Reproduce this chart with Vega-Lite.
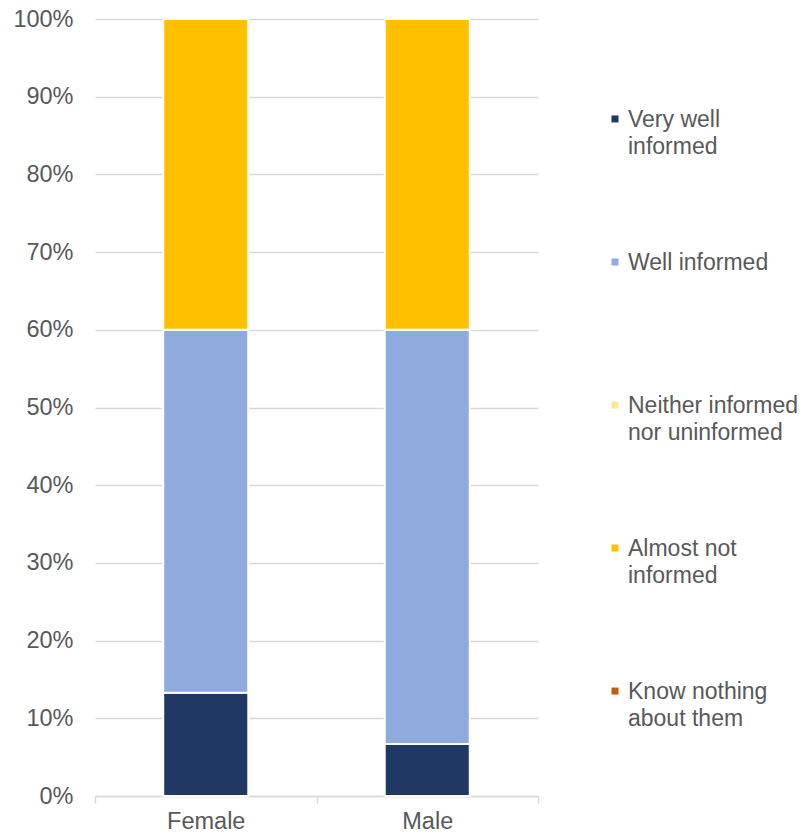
{
  "$schema": "https://vega.github.io/schema/vega-lite/v6.json",
  "padding": {"left": 12, "top": 7, "right": 0, "bottom": 0},
  "background": "white",
  "spacing": 72,
  "config": {"view": {"stroke": null}, "font": "Liberation Sans"},
  "hconcat": [
    {
      "width": 443,
      "height": 777,
      "data": {
        "values": [
          {"gender": "Female", "level": "Very well informed", "pct": 0.133},
          {"gender": "Female", "level": "Well informed", "pct": 0.467},
          {"gender": "Female", "level": "Neither informed nor uninformed", "pct": 0},
          {"gender": "Female", "level": "Almost not informed", "pct": 0.4},
          {"gender": "Female", "level": "Know nothing about them", "pct": 0},
          {"gender": "Male", "level": "Very well informed", "pct": 0.067},
          {"gender": "Male", "level": "Well informed", "pct": 0.533},
          {"gender": "Male", "level": "Neither informed nor uninformed", "pct": 0},
          {"gender": "Male", "level": "Almost not informed", "pct": 0.4},
          {"gender": "Male", "level": "Know nothing about them", "pct": 0}
        ]
      },
      "transform": [
        {"calculate": "indexof(['Very well informed', 'Well informed', 'Neither informed nor uninformed', 'Almost not informed', 'Know nothing about them'], datum.level)", "as": "stackOrder"}
      ],
      "mark": {"type": "bar", "width": {"band": 0.384}, "stroke": "white", "strokeWidth": 2},
      "encoding": {
        "x": {
          "field": "gender",
          "type": "nominal",
          "sort": ["Female", "Male"],
          "scale": {"paddingInner": 0, "paddingOuter": 0},
          "axis": {
            "title": null,
            "labelAngle": 0,
            "labelFontSize": 23.5,
            "labelColor": "#595959",
            "domainColor": "#d9d9d9",
            "domainWidth": 1.5,
            "tickColor": "#d9d9d9",
            "tickBand": "extent",
            "tickSize": 7,
            "tickWidth": 1.5,
            "labelPadding": 6
          }
        },
        "y": {
          "field": "pct",
          "type": "quantitative",
          "stack": "zero",
          "scale": {"domain": [0, 1]},
          "axis": {
            "title": null,
            "format": ".0%",
            "values": [0, 0.1, 0.2, 0.3, 0.4, 0.5, 0.6, 0.7, 0.8, 0.9, 1],
            "domain": false,
            "ticks": false,
            "gridColor": "#d9d9d9",
            "gridWidth": 1.5,
            "labelFontSize": 23.5,
            "labelColor": "#595959",
            "labelPadding": 22
          }
        },
        "color": {
          "field": "level",
          "type": "nominal",
          "sort": ["Very well informed", "Well informed", "Neither informed nor uninformed", "Almost not informed", "Know nothing about them"],
          "scale": {
            "domain": ["Very well informed", "Well informed", "Neither informed nor uninformed", "Almost not informed", "Know nothing about them"],
            "range": ["#203864", "#8FAADC", "#FFE699", "#FFC000", "#C55A11"]
          },
          "legend": null
        },
        "order": {"field": "stackOrder", "type": "quantitative", "sort": "ascending"}
      }
    },
    {
      "width": 180,
      "height": 772,
      "data": {
        "values": [
          {"level": "Very well informed", "text": "Very well\ninformed"},
          {"level": "Well informed", "text": "Well informed"},
          {"level": "Neither informed nor uninformed", "text": "Neither informed\nnor uninformed"},
          {"level": "Almost not informed", "text": "Almost not\ninformed"},
          {"level": "Know nothing about them", "text": "Know nothing\nabout them"}
        ]
      },
      "encoding": {
        "y": {
          "field": "level",
          "type": "nominal",
          "sort": ["Very well informed", "Well informed", "Neither informed nor uninformed", "Almost not informed", "Know nothing about them"],
          "scale": {"type": "point", "padding": 0.699},
          "axis": null
        },
        "x": {"datum": 0, "type": "quantitative", "scale": {"domain": [0, 1]}, "axis": null}
      },
      "layer": [
        {
          "mark": {"type": "square", "size": 49, "opacity": 1, "filled": true},
          "encoding": {
            "color": {
              "field": "level",
              "type": "nominal",
              "scale": {
                "domain": ["Very well informed", "Well informed", "Neither informed nor uninformed", "Almost not informed", "Know nothing about them"],
                "range": ["#203864", "#8FAADC", "#FFE699", "#FFC000", "#C55A11"]
              },
              "legend": null
            }
          }
        },
        {
          "mark": {"type": "text", "align": "left", "baseline": "alphabetic", "dx": 13, "dy": 8, "lineBreak": "\n", "fontSize": 23, "lineHeight": 27, "color": "#595959"},
          "encoding": {"text": {"field": "text"}}
        }
      ]
    }
  ]
}
